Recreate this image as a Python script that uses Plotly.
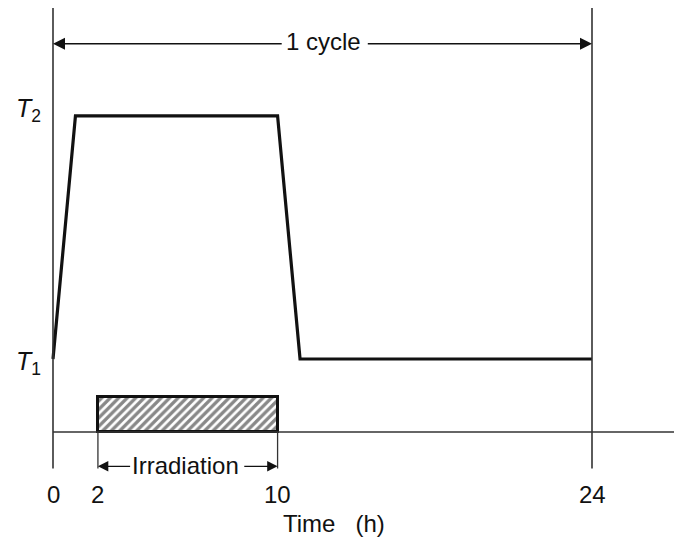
import plotly.graph_objects as go

# ---- data ----
time_h = [0, 1, 10, 11, 24]          # hours
temp_level = [1.0, 4.33, 4.33, 1.0, 1.0]  # relative: T1 = 1.0, T2 = 4.33
level_labels = ["<i>T</i><sub>1</sub>", "<i>T</i><sub>2</sub>"]
level_values = [1.0, 4.33]
irr_start, irr_end = 2, 10
irr_height = 0.48
tick_vals = [0, 2, 10, 24]
tick_text = ["0", "2", "10", "24"]
cycle_end = 24

FONT = "Liberation Sans, Arial, Helvetica, sans-serif"
INK = "#111111"
AX = "#333333"
FS = 24

fig = go.Figure()

# temperature profile
fig.add_trace(go.Scatter(x=time_h, y=temp_level, mode="lines",
                         line=dict(color=INK, width=3.2), hoverinfo="skip"))

# irradiation hatched block
fig.add_trace(go.Bar(x=[(irr_start + irr_end) / 2], y=[irr_height], base=0,
                     width=irr_end - irr_start,
                     marker=dict(color="white",
                                 line=dict(color=INK, width=3),
                                 pattern=dict(shape="/", size=6, solidity=0.55,
                                              fgcolor=INK, bgcolor="white")),
                     hoverinfo="skip"))

y_top = 5.81
y_bot = -0.5
shapes = []
for xv in [0, cycle_end]:
    shapes.append(dict(type="line", xref="x", yref="y", x0=xv, x1=xv, y0=y_bot, y1=y_top,
                       line=dict(color=AX, width=1.6)))
shapes.append(dict(type="line", xref="x", yref="y", x0=0, x1=30, y0=0, y1=0,
                   line=dict(color=AX, width=1.6)))
for xv in [irr_start, irr_end]:
    shapes.append(dict(type="line", xref="x", yref="y", x0=xv, x1=xv, y0=0, y1=-0.5,
                       line=dict(color=AX, width=1.3)))
fig.update_layout(shapes=shapes)

ann = []
y_cyc = 5.32
for x_head, x_tail in [(0, 10.25), (cycle_end, 13.95)]:
    ann.append(dict(x=x_head, y=y_cyc, ax=x_tail, ay=y_cyc, xref="x", yref="y",
                    axref="x", ayref="y", text="", showarrow=True, arrowhead=2,
                    arrowsize=1.6, arrowwidth=1.5, arrowcolor=INK, standoff=0))
ann.append(dict(x=12.05, y=y_cyc, xref="x", yref="y", text="1 cycle", showarrow=False,
                font=dict(family=FONT, size=FS, color=INK), yshift=2))
y_irr = -0.47
for x_head, x_tail in [(irr_start, 3.5), (irr_end, 8.45)]:
    ann.append(dict(x=x_head, y=y_irr, ax=x_tail, ay=y_irr, xref="x", yref="y",
                    axref="x", ayref="y", text="", showarrow=True, arrowhead=2,
                    arrowsize=1.6, arrowwidth=1.3, arrowcolor=INK, standoff=0))
ann.append(dict(x=(irr_start + irr_end) / 2 - 0.1, y=y_irr, xref="x", yref="y",
                text="Irradiation", showarrow=False,
                font=dict(family=FONT, size=FS, color=INK), yshift=1))
for v, t in zip(tick_vals, tick_text):
    ann.append(dict(x=v, y=-0.85, xref="x", yref="y", text=t, showarrow=False,
                    font=dict(family=FONT, size=FS, color=INK)))
ann.append(dict(x=12.5, y=-1.25, xref="x", yref="y", text="Time\u00a0\u00a0\u00a0(h)",
                showarrow=False, font=dict(family=FONT, size=FS, color=INK)))
for lab, val, dy in zip(level_labels, level_values, [-4, 6]):
    ann.append(dict(x=-0.45, y=val, xref="x", yref="y", text=lab, showarrow=False,
                    xanchor="right", yshift=dy,
                    font=dict(family=FONT, size=25, color=INK)))
fig.update_layout(annotations=ann)

# page has an 8px body margin: figure drawn at page offset (8, 8)
OFF = 8
px_per_h = (592 - 53) / 24
px_per_u = 73
fig.update_layout(
    width=682 - OFF, height=538 - OFF, autosize=False,
    margin=dict(l=0, r=0, t=0, b=0),
    paper_bgcolor="white", plot_bgcolor="white",
    showlegend=False,
    xaxis=dict(range=[(OFF - 53) / px_per_h, (682 - 53) / px_per_h], visible=False, fixedrange=True),
    yaxis=dict(range=[-(538 - 432) / px_per_u, (432 - OFF) / px_per_u], visible=False, fixedrange=True),
    bargap=0,
)

fig.write_html("out.html")
